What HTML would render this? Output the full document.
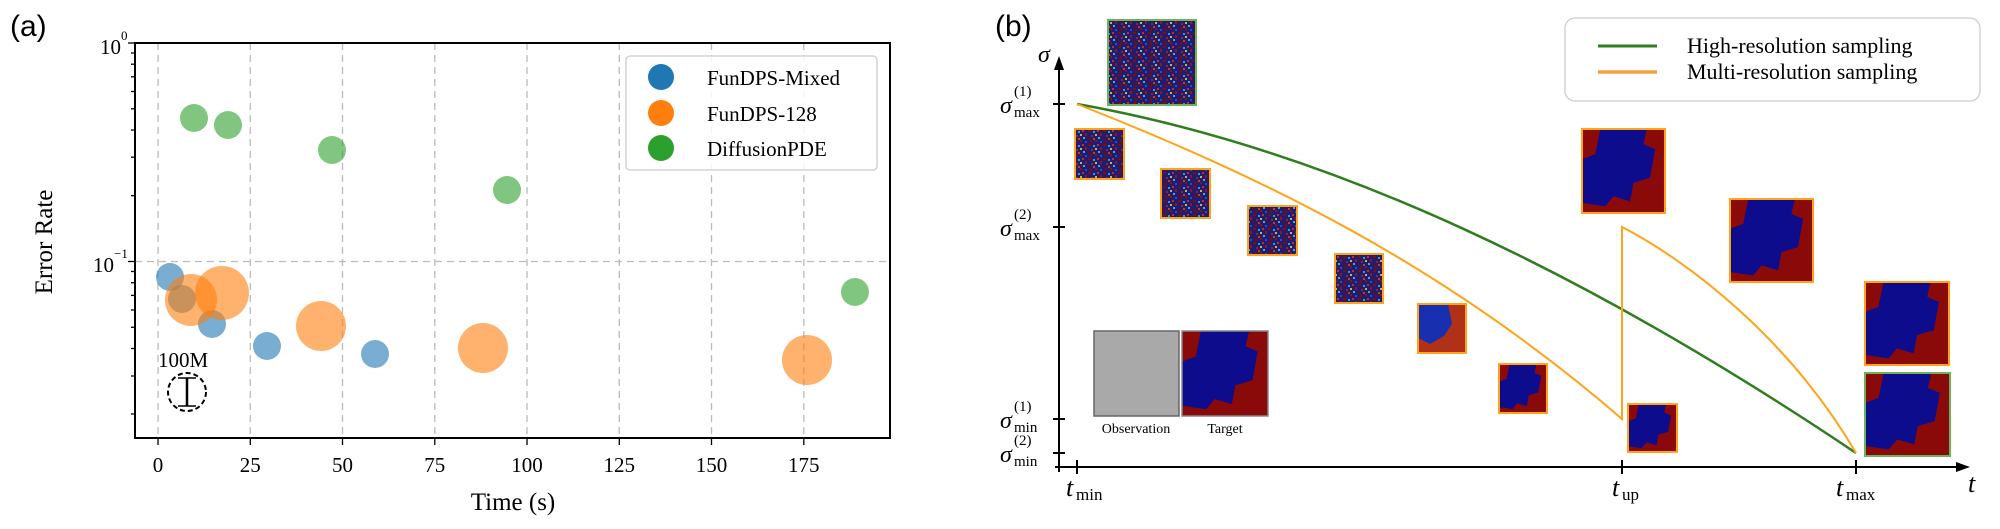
<!DOCTYPE html>
<html><head><meta charset="utf-8"><style>
html,body{margin:0;padding:0;background:#fff;}
svg{display:block;}
</style></head><body>
<svg width="2000" height="529" viewBox="0 0 2000 529" xmlns="http://www.w3.org/2000/svg">
<defs>
<pattern id="nz" width="15" height="14" patternUnits="userSpaceOnUse">
<rect width="15" height="14" fill="#221c70"/>
<rect x="0" y="0" width="2" height="2" fill="#8a1414"/>
<rect x="5" y="1" width="2" height="2" fill="#2050d0"/>
<rect x="10" y="0" width="2" height="3" fill="#701010"/>
<rect x="2" y="4" width="2" height="2" fill="#c03020"/>
<rect x="8" y="4" width="3" height="2" fill="#7a1010"/>
<rect x="13" y="5" width="2" height="2" fill="#30a0c0"/>
<rect x="0" y="8" width="2" height="2" fill="#d0b040"/>
<rect x="5" y="7" width="2" height="3" fill="#901818"/>
<rect x="11" y="9" width="2" height="2" fill="#a02020"/>
<rect x="3" y="11" width="2" height="2" fill="#40b0c0"/>
<rect x="8" y="12" width="2" height="2" fill="#6a0c0c"/>
<rect x="13" y="12" width="2" height="2" fill="#c04020"/>
</pattern>
<symbol id="blob" viewBox="0 0 100 100" preserveAspectRatio="none">
<rect width="100" height="100" fill="#8a0a0a"/>
<path d="M22,0 L78,0 L74,18 L88,24 L82,58 L62,64 L58,86 L38,80 L28,92 L0,88 L0,36 L16,30 Z" fill="#0c0c8c"/>
</symbol>
</defs>

<!-- Panel (a) -->
<text x="10" y="36" font-family="Liberation Sans, sans-serif" font-size="30">(a)</text>
<g stroke="#bbb" stroke-width="1.3" stroke-dasharray="7,5">
<line x1="158" y1="43" x2="158" y2="438"/>
<line x1="250.3" y1="43" x2="250.3" y2="438"/>
<line x1="342.5" y1="43" x2="342.5" y2="438"/>
<line x1="434.8" y1="43" x2="434.8" y2="438"/>
<line x1="527" y1="43" x2="527" y2="438"/>
<line x1="619.3" y1="43" x2="619.3" y2="438"/>
<line x1="711.5" y1="43" x2="711.5" y2="438"/>
<line x1="803.8" y1="43" x2="803.8" y2="438"/>
<line x1="135" y1="261.5" x2="890" y2="261.5"/>
</g>
<g fill-opacity="0.6">
<circle cx="194" cy="118" r="14" fill="#2ca02c"/>
<circle cx="228" cy="125" r="14" fill="#2ca02c"/>
<circle cx="332" cy="150" r="14" fill="#2ca02c"/>
<circle cx="507" cy="190" r="14" fill="#2ca02c"/>
<circle cx="855" cy="292" r="14" fill="#2ca02c"/>
<circle cx="170" cy="277" r="14" fill="#1f77b4"/>
<circle cx="182" cy="299" r="14" fill="#1f77b4"/>
<circle cx="212" cy="324" r="14" fill="#1f77b4"/>
<circle cx="267" cy="346" r="14" fill="#1f77b4"/>
<circle cx="375" cy="354" r="14" fill="#1f77b4"/>
<circle cx="191" cy="300" r="26" fill="#ff7f0e"/>
<circle cx="222" cy="293" r="27" fill="#ff7f0e"/>
<circle cx="321" cy="326" r="25" fill="#ff7f0e"/>
<circle cx="483" cy="348" r="25" fill="#ff7f0e"/>
<circle cx="807" cy="360" r="25" fill="#ff7f0e"/>
</g>
<text x="158" y="367" font-family="Liberation Serif, serif" font-size="21">100M</text>
<circle cx="187" cy="392" r="19" fill="none" stroke="#000" stroke-width="2" stroke-dasharray="5,3"/>
<g stroke="#000" stroke-width="2.5"><line x1="187" y1="378" x2="187" y2="406"/><line x1="178" y1="378" x2="196" y2="378" stroke-width="1.5"/><line x1="178" y1="406" x2="196" y2="406" stroke-width="1.5"/></g>
<rect x="135" y="43" width="755" height="395" fill="none" stroke="#000" stroke-width="2"/>
<g stroke="#000" stroke-width="1.3">
<line x1="128" y1="43" x2="135" y2="43"/><line x1="128" y1="261.5" x2="135" y2="261.5"/>
<line x1="131" y1="414" x2="135" y2="414"/><line x1="131" y1="376" x2="135" y2="376"/><line x1="131" y1="348.5" x2="135" y2="348.5"/><line x1="131" y1="327.3" x2="135" y2="327.3"/><line x1="131" y1="310" x2="135" y2="310"/><line x1="131" y1="295.4" x2="135" y2="295.4"/><line x1="131" y1="282.7" x2="135" y2="282.7"/><line x1="131" y1="271.5" x2="135" y2="271.5"/>
<line x1="131" y1="195.7" x2="135" y2="195.7"/><line x1="131" y1="157.2" x2="135" y2="157.2"/><line x1="131" y1="130" x2="135" y2="130"/><line x1="131" y1="108.8" x2="135" y2="108.8"/><line x1="131" y1="91.5" x2="135" y2="91.5"/><line x1="131" y1="76.8" x2="135" y2="76.8"/><line x1="131" y1="64.2" x2="135" y2="64.2"/><line x1="131" y1="53" x2="135" y2="53"/>
<line x1="158" y1="438" x2="158" y2="445"/><line x1="250.3" y1="438" x2="250.3" y2="445"/><line x1="342.5" y1="438" x2="342.5" y2="445"/><line x1="434.8" y1="438" x2="434.8" y2="445"/><line x1="527" y1="438" x2="527" y2="445"/><line x1="619.3" y1="438" x2="619.3" y2="445"/><line x1="711.5" y1="438" x2="711.5" y2="445"/><line x1="803.8" y1="438" x2="803.8" y2="445"/>
</g>
<g font-family="Liberation Serif, serif" font-size="21" fill="#000">
<text x="100" y="54">10</text><text x="121" y="40" font-size="13">0</text>
<text x="93" y="272">10</text><text x="114" y="258" font-size="13">−1</text>
<g text-anchor="middle">
<text x="158" y="472">0</text><text x="250.3" y="472">25</text><text x="342.5" y="472">50</text><text x="434.8" y="472">75</text><text x="527" y="472">100</text><text x="619.3" y="472">125</text><text x="711.5" y="472">150</text><text x="803.8" y="472">175</text>
<text x="513" y="510" font-size="25">Time (s)</text>
<text transform="translate(52,242) rotate(-90)" font-size="25">Error Rate</text>
</g>
</g>
<rect x="626" y="56" width="251" height="114" rx="4" fill="#fff" fill-opacity="0.85" stroke="#ccc" stroke-width="1.3"/>
<circle cx="661" cy="77" r="13" fill="#1f77b4"/>
<circle cx="661" cy="113" r="13" fill="#ff7f0e"/>
<circle cx="661" cy="148" r="13" fill="#2ca02c"/>
<g font-family="Liberation Serif, serif" font-size="21">
<text x="707" y="85">FunDPS-Mixed</text>
<text x="707" y="121">FunDPS-128</text>
<text x="707" y="156">DiffusionPDE</text>
</g>

<!-- Panel (b) -->
<text x="995" y="36" font-family="Liberation Sans, sans-serif" font-size="30">(b)</text>
<g stroke="#000" stroke-width="2">
<line x1="1059" y1="62" x2="1059" y2="472"/>
<line x1="1055" y1="467" x2="1960" y2="467"/>
<line x1="1077" y1="460" x2="1077" y2="474"/><line x1="1622" y1="460" x2="1622" y2="474"/><line x1="1856" y1="460" x2="1856" y2="474"/>
<line x1="1053" y1="104" x2="1065" y2="104"/><line x1="1053" y1="227" x2="1065" y2="227"/><line x1="1053" y1="419" x2="1065" y2="419"/><line x1="1053" y1="453" x2="1065" y2="453"/>
</g>
<path d="M1059,56 L1054,70 L1064,70 Z" fill="#000"/>
<path d="M1970,467 L1956,462 L1956,472 Z" fill="#000"/>
<rect x="1108" y="20" width="88" height="85" fill="url(#nz)" stroke="#6db35a" stroke-width="2"/>
<g stroke="#ffa31a" stroke-width="2">
<rect x="1075" y="129" width="49" height="50" fill="url(#nz)"/>
<rect x="1161" y="169" width="49" height="49" fill="url(#nz)"/>
<rect x="1248" y="206" width="49" height="49" fill="url(#nz)"/>
<rect x="1335" y="254" width="48" height="49" fill="url(#nz)"/>
</g>
<svg x="1418" y="304" width="48" height="49"><rect width="48" height="49" fill="#b03018"/><path d="M0,0 L30,0 L34,20 L26,32 L12,40 L0,34 Z" fill="#1830b0"/></svg>
<rect x="1418" y="304" width="48" height="49" fill="none" stroke="#ffa31a" stroke-width="2"/>
<use href="#blob" x="1499" y="364" width="48" height="49"/><rect x="1499" y="364" width="48" height="49" fill="none" stroke="#ffa31a" stroke-width="2"/>
<use href="#blob" x="1628" y="404" width="49" height="48"/><rect x="1628" y="404" width="49" height="48" fill="none" stroke="#ffa31a" stroke-width="2"/>
<use href="#blob" x="1582" y="129" width="83" height="84"/><rect x="1582" y="129" width="83" height="84" fill="none" stroke="#ffa31a" stroke-width="2"/>
<use href="#blob" x="1730" y="199" width="83" height="83"/><rect x="1730" y="199" width="83" height="83" fill="none" stroke="#ffa31a" stroke-width="2"/>
<use href="#blob" x="1865" y="282" width="84" height="83"/><rect x="1865" y="282" width="84" height="83" fill="none" stroke="#ffa31a" stroke-width="2"/>
<use href="#blob" x="1865" y="373" width="85" height="83"/><rect x="1865" y="373" width="85" height="83" fill="none" stroke="#6db35a" stroke-width="2"/>
<rect x="1094" y="331" width="85" height="85" fill="#a9a9a9" stroke="#666" stroke-width="1.5"/>
<use href="#blob" x="1182" y="331" width="86" height="85"/><rect x="1182" y="331" width="86" height="85" fill="none" stroke="#888" stroke-width="1.5"/>
<g font-family="Liberation Serif, serif" font-size="14" text-anchor="middle">
<text x="1136" y="433">Observation</text><text x="1225" y="433">Target</text>
</g>
<path d="M1077,104 C1337,150 1596,278.5 1856,453" fill="none" stroke="#2e7d1f" stroke-width="2.5"/>
<path d="M1077,104 C1259,176 1440,261.5 1622,419 L1622,227 C1690,262 1790,340 1856,453" fill="none" stroke="#ffa31a" stroke-width="2"/>
<g font-family="Liberation Serif, serif" fill="#000">
<text x="1038" y="62" font-size="24" font-style="italic">σ</text>
<text x="1000" y="113" font-size="24" font-style="italic">σ</text><text x="1014" y="96" font-size="15">(1)</text><text x="1014" y="117" font-size="15">max</text>
<text x="1000" y="236" font-size="24" font-style="italic">σ</text><text x="1014" y="219" font-size="15">(2)</text><text x="1014" y="240" font-size="15">max</text>
<text x="1000" y="428" font-size="24" font-style="italic">σ</text><text x="1014" y="411" font-size="15">(1)</text><text x="1014" y="432" font-size="15">min</text>
<text x="1000" y="462" font-size="24" font-style="italic">σ</text><text x="1014" y="445" font-size="15">(2)</text><text x="1014" y="466" font-size="15">min</text>
<text x="1066" y="496" font-size="26" font-style="italic">t</text><text x="1076" y="500" font-size="17">min</text>
<text x="1612" y="496" font-size="26" font-style="italic">t</text><text x="1622" y="500" font-size="17">up</text>
<text x="1836" y="496" font-size="26" font-style="italic">t</text><text x="1846" y="500" font-size="17">max</text>
<text x="1968" y="492" font-size="26" font-style="italic">t</text>
</g>
<rect x="1565" y="18" width="415" height="83" rx="10" fill="#fff" stroke="#ccc" stroke-width="1.3"/>
<line x1="1598" y1="46" x2="1657" y2="46" stroke="#2e7d1f" stroke-width="3"/>
<line x1="1598" y1="72" x2="1657" y2="72" stroke="#f0a040" stroke-width="3.5"/>
<g font-family="Liberation Serif, serif" font-size="22">
<text x="1687" y="53">High-resolution sampling</text>
<text x="1687" y="79">Multi-resolution sampling</text>
</g>
</svg>
</body></html>
